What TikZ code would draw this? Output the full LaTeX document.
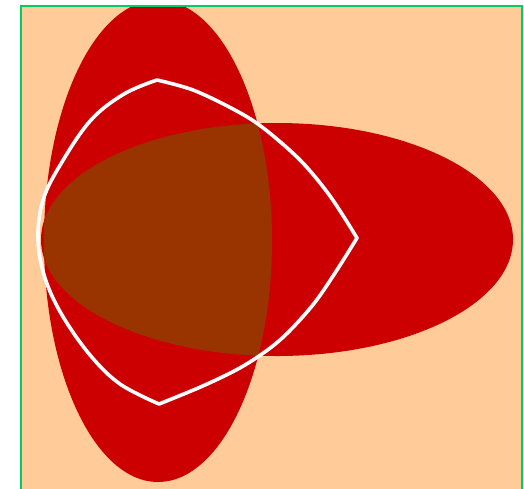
\documentclass[tikz,border=0pt]{standalone}
\definecolor{peach}{RGB}{255,204,153}
\definecolor{redfill}{RGB}{204,0,0}
\definecolor{brownfill}{RGB}{153,51,0}
\definecolor{framegreen}{RGB}{0,204,102}
\begin{document}
\begin{tikzpicture}[x=1pt,y=-1pt,
  curve/.style={draw=white,line width=3.6,line join=round}]
\useasboundingbox (0,0) rectangle (524,488);
\fill[white] (0,0) rectangle (524,488);
\begin{scope}
  \clip (21,5.7) rectangle (522,495);
  \fill[peach] (21,5.7) rectangle (522,495);
  \fill[redfill] (158,241) ellipse [x radius=114, y radius=241];
  \fill[redfill] (277,239.5) ellipse [x radius=236, y radius=116.5];
  \begin{scope}
    \clip (158,241) ellipse [x radius=114, y radius=241];
    \fill[brownfill] (277,239.5) ellipse [x radius=236, y radius=116.5];
  \end{scope}
\end{scope}
\draw[framegreen,line width=2] (21,495) -- (21,5.7) -- (522,5.7) -- (522,495);
\draw[curve]
  plot[smooth,tension=0.55] coordinates {(157,80) (193,90) (233,109) (262,127) (300,160) (330,196) (357,238)}
  -- plot[smooth,tension=0.55] coordinates {(357,238) (335,273) (312,306) (280,340) (245,365) (205,385) (159,404)}
  -- plot[smooth,tension=0.6] coordinates {(159,404) (120,384) (90,355) (62,315) (45,278) (38,240) (43,200) (62,162) (91,120) (124,94) (157,80)}
  -- cycle;
\end{tikzpicture}
\end{document}
